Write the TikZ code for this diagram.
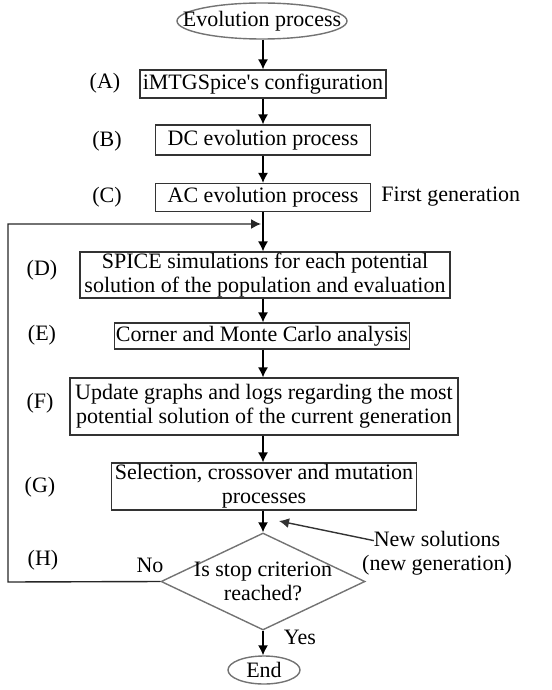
\documentclass[tikz,border=0pt]{standalone}
\usepackage{fontspec}
\setmainfont{Liberation Serif}
\usetikzlibrary{shapes.geometric,arrows.meta}
\tikzset{every node/.style={font=\fontsize{11}{12}\selectfont, inner sep=0pt},
  procbox/.style={draw=black!80, line width=0.6pt, align=center, minimum height=14pt},
  termin/.style={draw=black!55, line width=0.7pt, ellipse},
  decision/.style={draw=black!55, line width=0.7pt, diamond, minimum width=102pt, minimum height=48.5pt},
  tag/.style={anchor=center},
  flow/.style={black, line width=0.7pt, -{Latex[length=5pt,width=5pt]}}}

\begin{document}
\begin{tikzpicture}[x=0.5pt,y=-0.5pt]
       \useasboundingbox (0,0) rectangle (551,690);
       % main chain
        \node[termin, minimum width=85pt, minimum height=18pt, label=center:Evolution process] (start) at (262,21) {};
        \node[procbox, minimum width=123pt] (config) at (263,84) {iMTGSpice\textquotesingle s configuration};
        \node[procbox, minimum width=107.5pt, minimum height=15pt] (dcevo) at (263,140) {DC evolution process};
        \node[procbox, minimum width=107.5pt] (acevo) at (263,197.5) {AC evolution process};
        \node[procbox, minimum width=185pt, minimum height=23pt] (spice) at (265,275) {SPICE simulations for each potential\\solution of the population and evaluation};
        \node[procbox, minimum width=147.5pt, minimum height=13pt] (corner) at (262,336) {Corner and Monte Carlo analysis};
        \node[procbox, minimum width=194pt, minimum height=28.5pt] (update) at (264,406.5) {Update graphs and logs regarding the most\\potential solution of the current generation};
        \node[procbox, minimum width=152.5pt, minimum height=23.5pt] (select) at (264,486.5) {Selection, crossover and mutation\\processes};
        \node[decision, label={[align=center]center:Is stop criterion\\reached?}] (stop) at (263,581.5) {};
        \node[termin, minimum width=36pt, minimum height=14pt, label=center:End] (finish) at (264,670) {};
       % side texts
        \node[tag] (tagA) at (105,83) {(A)};
        \node[tag] (tagB) at (107,141) {(B)};
        \node[tag] (tagC) at (107,197) {(C)};
        \node[tag] (tagD) at (42,270) {(D)};
        \node[tag] (tagE) at (42,335) {(E)};
        \node[tag] (tagF) at (40,403) {(F)};
        \node[tag] (tagG) at (40,487) {(G)};
        \node[tag] (tagH) at (43,560) {(H)};
        \node[anchor=west] (firstgen) at (381,197) {First generation};
        \node[tag] (no) at (150,565) {No};
        \node[tag] (yes) at (300,637) {Yes};
        \node[align=center] (newsol) at (437,553) {New solutions\\(new generation)};
        \coordinate (loopin) at (263,224);
        \coordinate (newin) at (279,521);
       % connectors
        \draw[flow] (start.south -| stop.north) -- (config.north -| stop.north);
        \draw[flow] (config.south -| stop.north) -- (dcevo.north -| stop.north);
        \draw[flow] (dcevo.south -| stop.north) -- (acevo.north -| stop.north);
        \draw[flow] (acevo.south -| stop.north) -- (spice.north -| stop.north);
        \draw[flow] (spice.south -| stop.north) -- (corner.north -| stop.north);
        \draw[flow] (corner.south -| stop.north) -- (update.north -| stop.north);
        \draw[flow] (update.south -| stop.north) -- (select.north -| stop.north);
        \draw[flow] (select.south -| stop.north) -- (stop.north);
        \draw[flow] (stop.south) -- (finish.north -| stop.south);
        \draw[flow, black!85] (stop.west) -- (8,582) -- (8,224) -- ([xshift=-1pt]loopin);
        \draw[flow, black!80] ([xshift=6pt,yshift=-5pt]newsol.north west) -- (newin);
\end{tikzpicture}
\end{document}
